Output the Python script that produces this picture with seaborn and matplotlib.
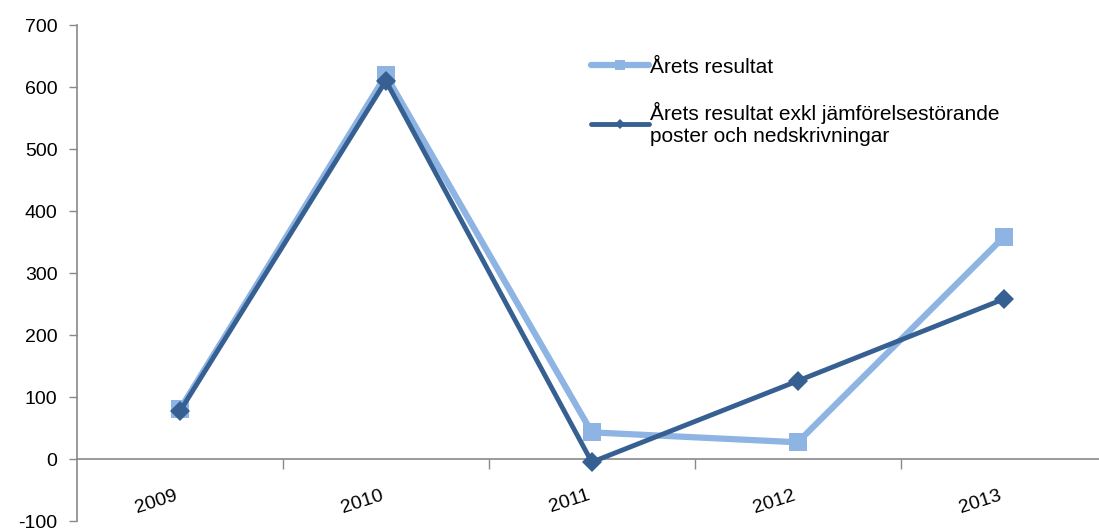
import pandas as pd
import numpy as np
import matplotlib
matplotlib.use("Agg")
import matplotlib.pyplot as plt
import seaborn as sns

# data
years = ["2009", "2010", "2011", "2012", "2013"]
arets_resultat = [80, 619, 43, 27, 358]
arets_resultat_exkl = [77, 610, -5, 126, 258]

label_a = "Årets resultat"
label_b = "Årets resultat exkl jämförelsestörande\nposter och nedskrivningar"

light = "#8DB4E2"
dark = "#376092"

sns.set_style("white")
plt.rcParams["font.family"] = ["Liberation Sans", "DejaVu Sans"]
plt.rcParams["axes.unicode_minus"] = False
plt.rcParams["text.color"] = "black"
plt.rcParams["xtick.color"] = "black"
plt.rcParams["ytick.color"] = "black"

df = pd.DataFrame({"x": np.arange(len(years)), "a": arets_resultat, "b": arets_resultat_exkl})

fig = plt.figure(figsize=(10.99, 5.29), dpi=100)
ax = fig.add_axes([0.070, 0.0151, 0.937, 0.9376])

sns.lineplot(data=df, x="x", y="a", ax=ax, color=light, linewidth=4.5,
             marker="s", markersize=13.5, markeredgewidth=0, label=label_a, zorder=2)
sns.lineplot(data=df, x="x", y="b", ax=ax, color=dark, linewidth=3.5,
             marker="D", markersize=10, markeredgewidth=0, label=label_b, zorder=3)

ax.set_xlim(-0.5, 4.5)
ax.set_ylim(-100, 700)
ax.set_yticks(range(-100, 701, 100))
ax.set_xlabel("")
ax.set_ylabel("")

# category boundaries get the tick marks, labels sit at category centres
ax.set_xticks(np.arange(0.5, 4.0, 1.0))
ax.set_xticklabels([])
ax.set_xticks(np.arange(len(years)), minor=True)
ax.tick_params(axis="x", which="minor", bottom=True, length=0, pad=20,
               labelsize=14, labelrotation=18, labelcolor="black")
ax.tick_params(axis="x", which="major", bottom=True, length=7, width=1,
               color="#898989", direction="out")
ax.tick_params(axis="y", left=True, length=6, width=1, color="#898989",
               direction="out", labelsize=14, pad=8, labelcolor="black")
ax.set_xticklabels(years, minor=True, ha="right", rotation=18, fontsize=14)

for s in ["top", "right"]:
    ax.spines[s].set_visible(False)
ax.spines["left"].set_color("#898989")
ax.spines["left"].set_linewidth(1.2)
ax.spines["bottom"].set_color("#898989")
ax.spines["bottom"].set_linewidth(1.2)
ax.spines["bottom"].set_position(("data", 0))

leg = ax.legend(loc="upper left", bbox_to_anchor=(0.481, 0.972), frameon=False,
                fontsize=15, handlelength=2.8, handletextpad=0.05,
                labelspacing=1.2, markerscale=0.5)

fig.canvas.draw()
plt.setp(ax.xaxis.get_minorticklabels(), ha="right")

fig.savefig("out.png", dpi=100)
